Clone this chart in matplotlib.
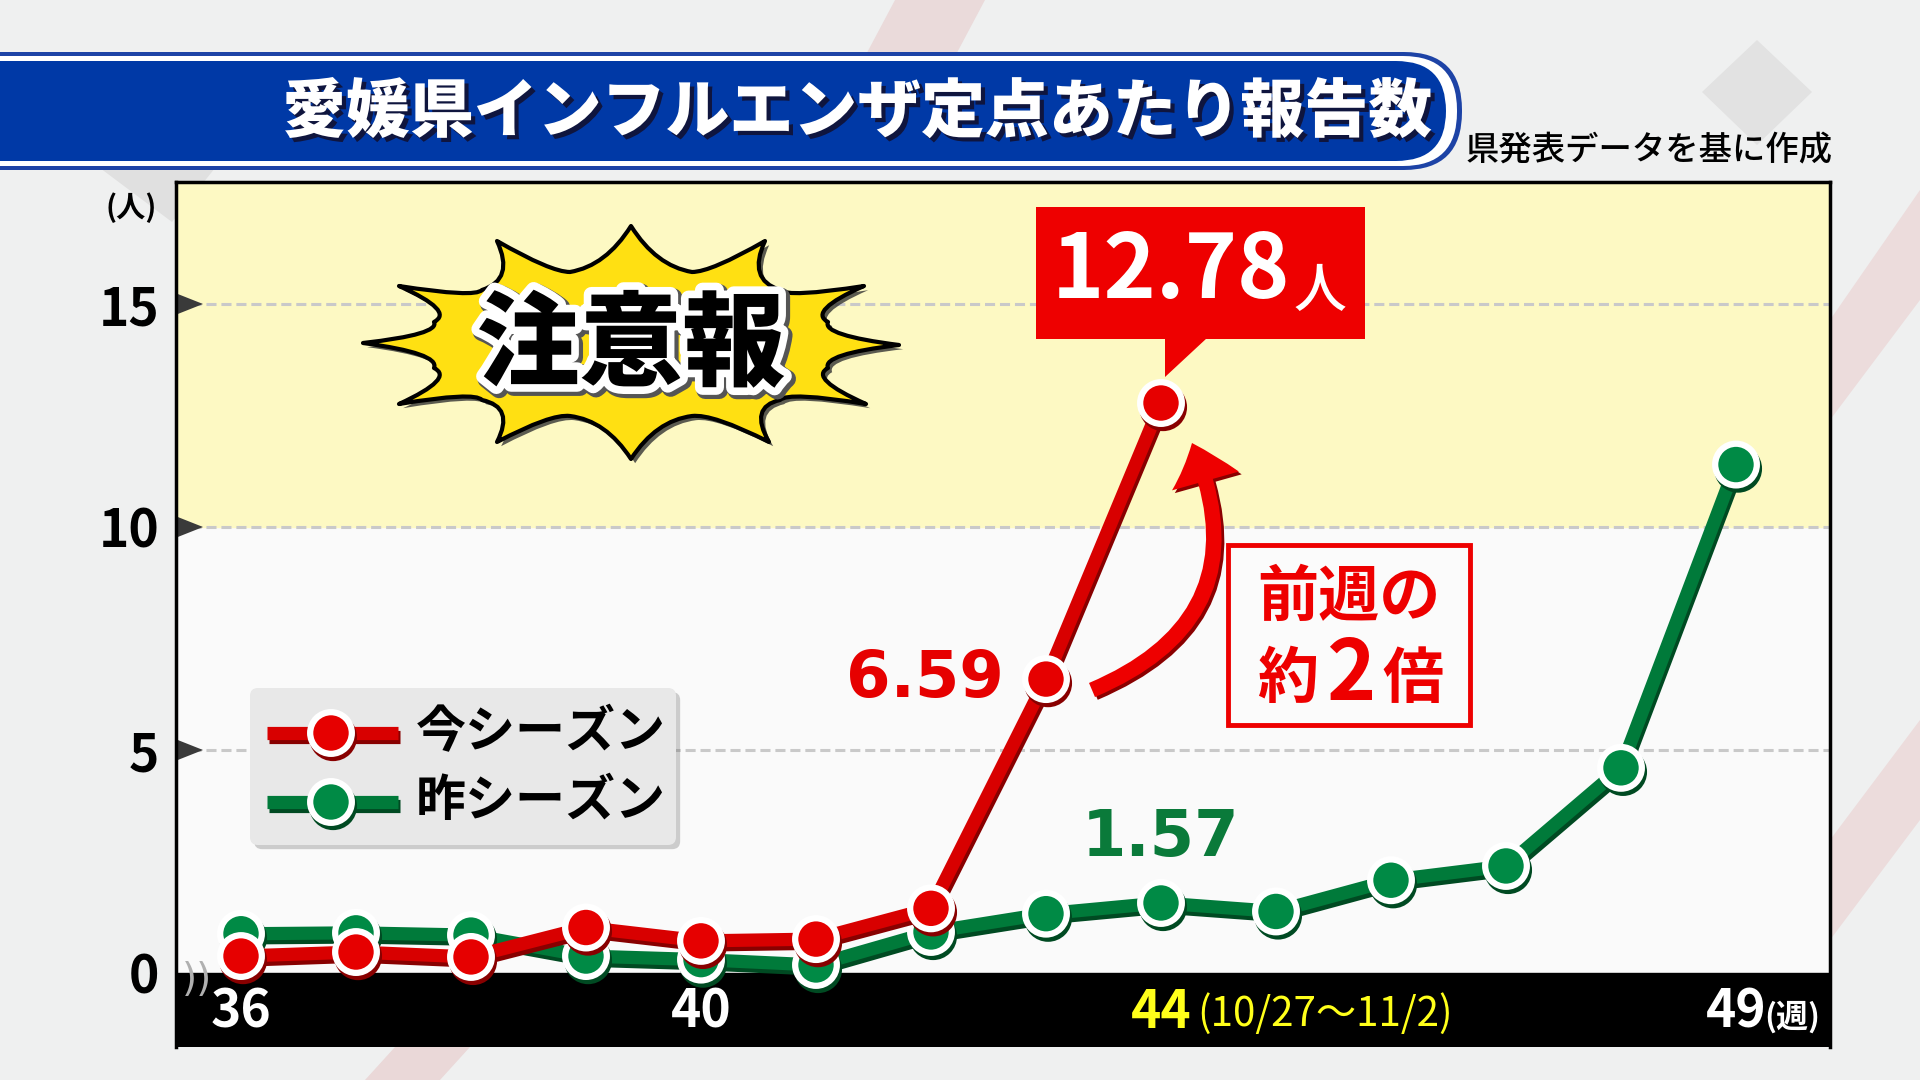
import matplotlib
matplotlib.use('Agg')
import matplotlib.pyplot as plt
import matplotlib.patheffects as pe
from matplotlib import font_manager as fm
from matplotlib.path import Path
from matplotlib.patches import FancyBboxPatch, Polygon, Rectangle, FancyArrowPatch, ArrowStyle, PathPatch

# data
weeks = list(range(36, 50))
this_season = [0.38, 0.47, 0.36, 1.02, 0.72, 0.76, 1.45, 6.59, 12.78]
last_season = [0.88, 0.9, 0.85, 0.38, 0.3, 0.18, 0.92, 1.33, 1.57, 1.38, 2.08, 2.4, 4.6, 11.4]
series_names = ['今シーズン', '昨シーズン']
y_ticks = [0, 5, 10, 15]
x_label_weeks = [36, 40, 44, 49]
highlight_week = 44
highlight_range = '(10/27〜11/2)'
alert_level = 10
title = '愛媛県インフルエンザ定点あたり報告数'
source = '県発表データを基に作成'

JP = ['Noto Sans CJK JP', 'DejaVu Sans']
plt.rcParams['font.family'] = JP


def pick_font(names):
    for n in names:
        try:
            fm.findfont(fm.FontProperties(family=n), fallback_to_default=False)
            return n
        except Exception:
            pass
    return None


narrow = pick_font(['Liberation Sans Narrow'])

RED, RED_D, RED_M = '#d80000', '#880000', '#e60000'
GRN, GRN_D, GRN_M = '#007a3a', '#004a22', '#008a45'

W, H = 1920, 1080
# plot placement in pixels
AX_L, AX_R, AX_T, AX_B = 176, 1830, 182, 1047
Y0_PX, PX_UNIT = 973, 44.6
X36_PX, PX_WEEK = 241, 115

fig = plt.figure(figsize=(19.2, 10.8), dpi=100)
fig.patch.set_facecolor('#eff0f0')

# background + banner
bg = fig.add_axes([0, 0, 1, 1], zorder=0)
bg.set_xlim(0, W)
bg.set_ylim(H, 0)
bg.axis('off')
bg.add_patch(Polygon([(895, 0), (985, 0), (900, 160), (810, 160)], fc='#eadada', ec='none'))
bg.add_patch(Polygon([(1757, 40), (1812, 92), (1757, 145), (1702, 92)], fc='#e2e2e2', ec='none'))
bg.add_patch(Polygon([(1920, 190), (1920, 300), (1830, 420), (1830, 320)], fc='#ecdcdc', ec='none'))
bg.add_patch(Polygon([(1920, 720), (1920, 820), (1830, 940), (1830, 840)], fc='#ecdcdc', ec='none'))
bg.add_patch(Polygon([(365, 1080), (440, 1080), (470, 1047), (395, 1047)], fc='#ead8d8', ec='none'))
bg.add_patch(Polygon([(100, 168), (215, 168), (172, 222)], fc='#e0e0e0', ec='none'))

bg.add_patch(FancyBboxPatch((-80, 52), 1542, 118, boxstyle='round,pad=0,rounding_size=58',
                            fc='#1d43a6', ec='none'))
bg.add_patch(FancyBboxPatch((-80, 56), 1537, 110, boxstyle='round,pad=0,rounding_size=54',
                            fc='white', ec='none'))
bg.add_patch(FancyBboxPatch((-80, 61), 1526, 100, boxstyle='round,pad=0,rounding_size=50',
                            fc='#0039a6', ec='none'))
bg.text(857, 113, title, color='white', fontsize=46, fontweight='heavy', ha='center', va='center',
        path_effects=[pe.withSimplePatchShadow(offset=(3, -3), shadow_rgbFace='#111133', alpha=0.9)])
bg.text(1833, 150, source, color='black', fontsize=24, fontweight='medium', ha='right', va='center')
bg.text(131, 208, '(人)', color='black', fontsize=21, fontweight='bold', ha='center', va='center')

# main plot
ax = fig.add_axes([AX_L / W, 1 - AX_B / H, (AX_R - AX_L) / W, (AX_B - AX_T) / H], zorder=1)
y_top = (Y0_PX - AX_T) / PX_UNIT
y_bot = -(AX_B - Y0_PX) / PX_UNIT
x_lo = 36 - (X36_PX - AX_L) / PX_WEEK
x_hi = 36 + (AX_R - X36_PX) / PX_WEEK
ax.set_xlim(x_lo, x_hi)
ax.set_ylim(y_bot, y_top)
ax.set_facecolor('#fafafa')
ax.axhspan(alert_level, y_top, color='#fdf9c3', zorder=0)
ax.axhspan(y_bot, 0, color='black', zorder=1)
for t in y_ticks[1:]:
    ax.axhline(t, color='#c9c9c9', lw=2.2, ls=(0, (3.3, 1.6)), zorder=0.5)
    ax.add_patch(Polygon([(x_lo, t + 0.24), (x_lo + 27 / PX_WEEK, t), (x_lo, t - 0.24)],
                         closed=True, fc='#3a3a3a', ec='none', zorder=2, clip_on=False))

for s in ['left', 'top', 'right']:
    ax.spines[s].set_linewidth(2.5)
    ax.spines[s].set_color('black')
ax.spines['bottom'].set_visible(False)
ax.set_xticks([])
ax.set_yticks(y_ticks)
ax.set_yticklabels([str(t) for t in y_ticks], fontsize=37, fontweight='bold')
ax.tick_params(axis='y', length=0, pad=12)


def series(axis, x, y, line, shade, face, z):
    axis.plot(x, y, color=line, lw=9.5, marker='o', ms=30, mfc=face, mec='white', mew=4.5,
              zorder=z, clip_on=False, solid_capstyle='butt',
              path_effects=[pe.SimpleLineShadow(offset=(1.5, -3), shadow_color=shade, alpha=1),
                            pe.Normal()])


series(ax, weeks, last_season, GRN, GRN_D, GRN_M, 5)
series(ax, weeks[:len(this_season)], this_season, RED, RED_D, RED_M, 6)

for w in x_label_weeks:
    c = '#ffff1a' if w == highlight_week else 'white'
    ax.text(w, -0.88, str(w), color=c, fontsize=37, fontweight='bold', ha='center', va='center', zorder=3)
ax.annotate(highlight_range, xy=(highlight_week, -0.88), xytext=(26, -1), textcoords='offset points',
            ha='left', va='center', color='#ffff1a', fontsize=29, zorder=3)
ax.annotate('(週)', xy=(weeks[-1], -0.88), xytext=(20, -4), textcoords='offset points',
            ha='left', va='center', color='white', fontsize=23, fontweight='bold', zorder=3)

ax.annotate(f'{this_season[-2]:.2f}', xy=(weeks[len(this_season) - 2], this_season[-2]),
            xytext=(-30, 0), textcoords='offset points', ha='right', va='center',
            color=RED_M, fontsize=46, fontweight='bold', family='DejaVu Sans', zorder=7)
ax.annotate(f'{last_season[8]:.2f}', xy=(weeks[8], last_season[8]),
            xytext=(0, 47), textcoords='offset points', ha='center', va='center',
            color='#0a7a3a', fontsize=46, fontweight='bold', family='DejaVu Sans', zorder=7)

# overlay in pixel coords
ov = fig.add_axes([0, 0, 1, 1], zorder=3)
ov.set_xlim(0, W)
ov.set_ylim(H, 0)
ov.axis('off')

# axis break mark
ov.text(197, 980, '))', color='#b0b0b0', fontsize=28, ha='center', va='center', family='DejaVu Sans')

# legend
ov.add_patch(FancyBboxPatch((250, 688), 426, 157, boxstyle='round,pad=0,rounding_size=8',
                            fc='#e8e8e8', ec='none',
                            path_effects=[pe.SimplePatchShadow(offset=(3, -3), alpha=0.25), pe.Normal()]))
for yy, name, line, shade, face in [(733, series_names[0], RED, RED_D, RED_M),
                                    (802, series_names[1], GRN, GRN_D, GRN_M)]:
    ov.plot([267, 398], [yy, yy], color=line, lw=9.5, solid_capstyle='butt',
            path_effects=[pe.SimpleLineShadow(offset=(1.5, -3), shadow_color=shade, alpha=1), pe.Normal()])
    ov.plot([331], [yy], marker='o', ms=30, mfc=face, mec='white', mew=4.5,
            path_effects=[pe.SimpleLineShadow(offset=(1.5, -3), shadow_color=shade, alpha=1), pe.Normal()])
    ov.text(416, yy, name, fontsize=36, fontweight='bold', color='black', ha='left', va='center')

# starburst with concave edges
cx, cy = 631, 343
tips = [(631, 226), (765, 241), (864, 286), (899, 345), (866, 404), (769, 442),
        (631, 459), (497, 442), (399, 404), (363, 343), (399, 286), (497, 241)]
valleys = [(692, 272), (780, 290), (828, 322), (828, 368), (780, 400), (692, 416),
           (570, 416), (482, 400), (434, 368), (434, 322), (482, 290), (570, 272)]
verts, codes = [tips[0]], [Path.MOVETO]
for i in range(len(tips)):
    a, v, b = tips[i], valleys[i], tips[(i + 1) % len(tips)]
    for p, q in [(a, v), (v, b)]:
        mx, my = (p[0] + q[0]) / 2, (p[1] + q[1]) / 2
        verts += [(mx + 0.18 * (cx - mx), my + 0.18 * (cy - my)), q]
        codes += [Path.CURVE3, Path.CURVE3]
verts.append(tips[0])
codes.append(Path.CLOSEPOLY)
ov.add_patch(PathPatch(Path(verts, codes), fc='#ffe012', ec='black', lw=3, joinstyle='round',
                       path_effects=[pe.SimplePatchShadow(offset=(3, -3), shadow_rgbFace='#333333', alpha=0.8),
                                     pe.Normal()]))
ov.text(631, 347, '注意報', fontsize=74, fontweight='heavy', color='black', ha='center', va='center',
        path_effects=[pe.Stroke(linewidth=13, foreground='#555555', offset=(2, -2)),
                      pe.Stroke(linewidth=11, foreground='white'), pe.Normal()])

# callout for latest value
fig.canvas.draw()
px, py = ax.transData.transform((weeks[len(this_season) - 1], this_season[-1]))
tip_x, tip_y = px + 4, H - py - 26
ov.add_patch(Rectangle((1036, 207), 329, 132, fc='#ee0000', ec='none'))
ov.add_patch(Polygon([(tip_x, 338), (tip_x + 42, 338), (tip_x, tip_y)], closed=True, fc='#ee0000', ec='none'))
if narrow:
    ov.text(1290, 272, f'{this_season[-1]:.2f}', fontsize=80, fontweight='bold', color='white',
            ha='right', va='center', family=narrow)
else:
    ov.text(1290, 272, f'{this_season[-1]:.2f}', fontsize=64, fontweight='bold', color='white',
            ha='right', va='center')
ov.text(1294, 292, '人', fontsize=38, fontweight='medium', color='white', ha='left', va='center')

# curved arrow
arr = FancyArrowPatch((1092, 690), (1192, 443), connectionstyle='arc3,rad=0.5',
                      arrowstyle=ArrowStyle.Simple(head_length=1.45, head_width=2.5, tail_width=0.55),
                      mutation_scale=20, fc='#ee0000', ec='none', shrinkA=0, shrinkB=0,
                      path_effects=[pe.SimplePatchShadow(offset=(2, -2), shadow_rgbFace='#8a0000', alpha=1),
                                    pe.Normal()])
ov.add_patch(arr)

ov.add_patch(Rectangle((1228, 545), 242, 180, fc='#fbfbfb', ec='#ee0000', lw=3.5))
ov.text(1349, 598, '前週の', fontsize=44, fontweight='bold', color='#ee0000', ha='center', va='center')
ov.text(1288, 680, '約', fontsize=44, fontweight='bold', color='#ee0000', ha='center', va='center')
ov.text(1351, 675, '2', fontsize=60, fontweight='bold', color='#ee0000', ha='center', va='center')
ov.text(1413, 680, '倍', fontsize=44, fontweight='bold', color='#ee0000', ha='center', va='center')

fig.savefig('out.png', dpi=100, facecolor=fig.get_facecolor())
